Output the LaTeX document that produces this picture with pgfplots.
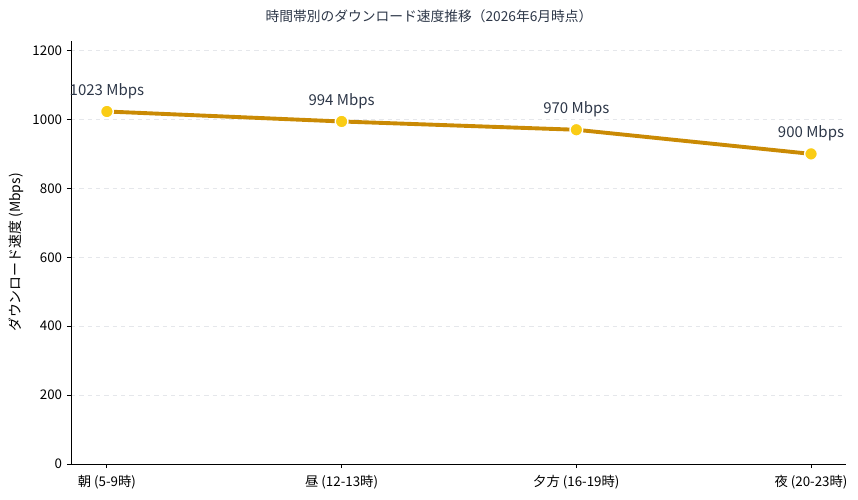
\documentclass[border=0pt]{standalone}
\usepackage{pgfplots}
\pgfplotsset{compat=1.18}
\usepackage{fontspec}
\setmainfont{Noto Sans CJK JP}
\definecolor{linec}{HTML}{CA8A04}
\definecolor{markc}{HTML}{FACC15}
\definecolor{txt}{HTML}{2D3748}
\definecolor{gridc}{HTML}{E5E7EB}
\begin{document}
\begin{tikzpicture}[x=1pt,y=1pt]
\useasboundingbox (0,0) rectangle (617.76,359.28);
\begin{axis}[
  at={(51.12pt,25.2pt)}, anchor=south west,
  scale only axis, width=558pt, height=304.56pt,
  xmin=-0.153, xmax=3.149, ymin=0, ymax=1227.6,
  clip=false,
  axis x line*=bottom, axis y line*=left,
  axis line style={line width=0.7pt, black},
  xtick={0,1,2,3},
  xticklabels={朝 (5-9時), 昼 (12-13時), 夕方 (16-19時), 夜 (20-23時)},
  xticklabel style={yshift=-2pt},
  ytick={0,200,...,1200},
  tick align=outside, major tick length=2.9pt,
  tick style={line width=0.6pt, black},
  ymajorgrids, grid style={gridc, dashed, line width=0.5pt},
  tick label style={font=\fontsize{9.6}{11}\selectfont, text=black},
  /pgf/number format/assume math mode=true,
  /pgf/number format/1000 sep={},
  ylabel={ダウンロード速度 (Mbps)},
  ylabel style={font=\fontsize{10}{12}\selectfont, at={(axis description cs:-0.071,0.5)}, anchor=center},
]
\addplot[color=linec, line width=2.8pt, line join=round, mark=*, mark size=4.6pt,
  mark options={fill=markc, draw=white, line width=1pt},
  point meta=y,
  nodes near coords={\pgfmathprintnumber[assume math mode=true,1000 sep={}]{\pgfplotspointmeta} Mbps},
  every node near coord/.append style={font=\fontsize{10.8}{13}\selectfont, text=txt, anchor=center, yshift=14.6pt}]
  coordinates {(0,1023) (1,994) (2,970) (3,900)};
\end{axis}
\node[font=\fontsize{9.9}{12}\selectfont, text=txt] at (308.9,347.8) {時間帯別のダウンロード速度推移（2026年6月時点）};
\end{tikzpicture}
\end{document}
